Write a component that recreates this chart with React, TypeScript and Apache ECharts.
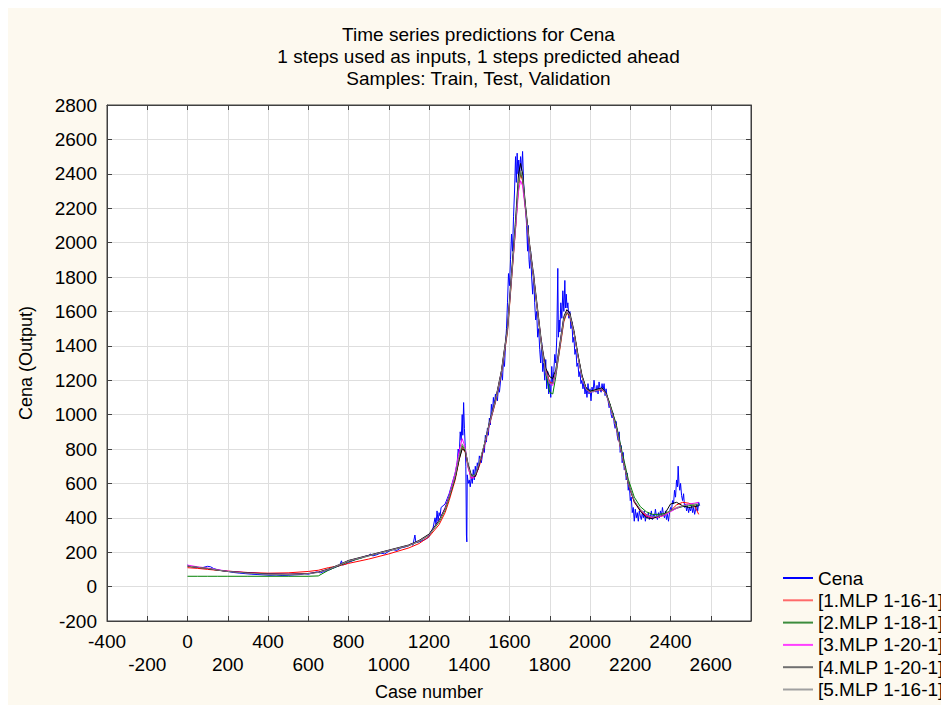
import React, { useEffect, useRef } from "react";
import * as echarts from "echarts";

const titleLines = [
  "Time series predictions for Cena",
  "1 steps used as inputs, 1 steps predicted ahead",
  "Samples: Train, Test, Validation",
];
const seriesNames = ["Cena", "[1.MLP 1-16-1]", "[2.MLP 1-18-1]", "[3.MLP 1-20-1]", "[4.MLP 1-20-1]", "[5.MLP 1-16-1]"];
const seriesColors = ["#0000ff", "#ff0000", "#008000", "#ff00ff", "#000000", "#808080"];
const legendColors = ["#0000ff", "#ff6a6a", "#3c8c3c", "#ff40ff", "#707070", "#a0a0a0"];

// observed series: [case, value]
const cena: number[][] = [
  [0,125],[10,118],[25,115],[40,112],[60,108],[80,112],[100,118],[115,115],[130,105],[150,98],[175,92],[200,88],[230,82],[260,78],[290,75],[320,72],[350,70],[380,68],[410,66],[440,67],[470,65],[500,66],[530,68],[560,70],[580,75],[600,72],[620,78],[640,85],[660,80],[680,88],[700,95],[720,105],[740,115],[755,120],[765,150],[770,125],[785,130],[800,140],[820,150],[840,160],[860,165],[880,175],[900,180],[910,190],[920,178],[940,185],[960,195],[980,190],[1000,205],[1020,215],[1040,210],[1060,225],[1080,230],[1100,238],[1110,250],[1120,240],[1130,300],[1135,255],[1150,260],[1170,268],[1190,280],[1200,290],[1210,320],[1220,340],[1230,400],[1235,360],[1240,440],[1245,380],[1250,430],[1255,410],[1260,460],[1270,470],[1280,480],[1290,510],[1300,540],[1310,580],[1320,620],[1330,660],[1340,720],[1345,800],[1350,760],[1355,900],[1360,850],[1365,1000],[1368,880],[1372,1070],[1376,920],[1380,820],[1383,700],[1386,300],[1388,260],[1390,650],[1395,600],[1400,620],[1405,580],[1410,640],[1415,600],[1420,680],[1425,620],[1430,700],[1435,650],[1440,720],[1445,680],[1450,760],[1460,720],[1470,800],[1475,780],[1480,880],[1485,840],[1490,920],[1495,880],[1500,980],[1505,940],[1510,1060],[1515,1000],[1520,1100],[1525,1050],[1530,1120],[1540,1080],[1545,1160],[1550,1130],[1560,1250],[1565,1200],[1570,1320],[1575,1280],[1580,1400],[1585,1500],[1590,1650],[1595,1820],[1600,1750],[1605,1900],[1610,2050],[1615,1950],[1620,2150],[1625,2300],[1630,2500],[1634,2350],[1638,2520],[1642,2400],[1646,2480],[1650,2380],[1655,2500],[1660,2420],[1665,2530],[1670,2350],[1675,2250],[1680,2200],[1685,2100],[1690,1950],[1693,2100],[1697,1900],[1700,1850],[1705,1950],[1710,1800],[1715,1700],[1720,1820],[1725,1650],[1730,1550],[1735,1600],[1740,1450],[1745,1500],[1750,1380],[1755,1300],[1760,1420],[1765,1250],[1770,1300],[1775,1200],[1780,1320],[1785,1150],[1790,1250],[1795,1120],[1800,1200],[1805,1100],[1810,1280],[1815,1180],[1820,1250],[1825,1350],[1830,1300],[1835,1450],[1840,1850],[1843,1450],[1847,1550],[1850,1480],[1855,1650],[1860,1560],[1865,1720],[1870,1600],[1875,1780],[1878,1620],[1882,1700],[1886,1620],[1890,1650],[1895,1560],[1900,1600],[1905,1500],[1910,1540],[1915,1420],[1920,1450],[1925,1350],[1930,1380],[1935,1280],[1940,1300],[1945,1220],[1950,1250],[1955,1180],[1960,1200],[1965,1150],[1970,1190],[1975,1120],[1980,1160],[1985,1100],[1990,1180],[1995,1120],[2000,1150],[2005,1080],[2010,1160],[2015,1130],[2020,1200],[2025,1150],[2030,1130],[2035,1170],[2040,1120],[2045,1190],[2050,1150],[2055,1130],[2060,1180],[2065,1140],[2070,1180],[2075,1110],[2080,1150],[2085,1100],[2090,1080],[2095,1040],[2100,1060],[2105,1000],[2110,980],[2115,1010],[2120,950],[2125,920],[2130,960],[2135,880],[2140,850],[2145,900],[2150,780],[2155,820],[2160,720],[2165,780],[2170,680],[2175,700],[2180,620],[2185,660],[2190,560],[2195,600],[2200,500],[2205,520],[2210,430],[2215,460],[2220,380],[2225,450],[2230,400],[2235,430],[2240,380],[2245,440],[2250,410],[2255,390],[2260,430],[2265,400],[2270,440],[2275,380],[2280,420],[2285,400],[2290,430],[2295,390],[2300,410],[2305,440],[2310,390],[2315,420],[2320,400],[2325,450],[2330,410],[2335,390],[2340,430],[2345,400],[2350,440],[2355,410],[2360,460],[2365,420],[2370,400],[2375,440],[2380,390],[2385,420],[2390,380],[2395,430],[2400,460],[2405,440],[2410,500],[2415,480],[2420,560],[2425,520],[2430,620],[2435,580],[2438,700],[2442,600],[2446,560],[2450,600],[2455,530],[2460,500],[2465,540],[2470,460],[2475,480],[2480,440],[2485,470],[2490,430],[2495,460],[2500,440],[2505,470],[2510,430],[2515,460],[2520,420],[2525,450],[2530,480],[2535,440],[2540,490],[2545,470],
];

// model prediction cases
const modelCases = [0,50,100,150,200,300,400,500,600,650,700,750,800,900,1000,1100,1150,1200,1250,1280,1300,1330,1350,1365,1380,1395,1410,1430,1450,1480,1500,1530,1560,1590,1610,1630,1645,1655,1665,1680,1700,1720,1740,1760,1780,1800,1815,1830,1850,1870,1885,1900,1920,1940,1960,1980,2000,2030,2060,2080,2100,2130,2160,2190,2220,2250,2280,2310,2340,2370,2400,2430,2460,2490,2520,2540];

const mlp1 = [110,106,100,95,90,82,78,80,88,95,110,120,135,160,190,225,250,290,360,430,500,620,740,810,780,690,630,640,700,840,940,1070,1240,1480,1780,2080,2330,2400,2360,2190,1980,1790,1590,1400,1260,1190,1180,1240,1380,1540,1590,1570,1480,1340,1220,1150,1130,1140,1145,1120,1050,930,760,600,490,440,410,400,405,415,440,475,490,485,470,420];
const mlp2 = [60,60,60,60,60,60,60,60,60,62,95,120,145,178,208,238,262,298,375,445,515,635,750,820,790,700,645,650,715,845,945,1075,1245,1490,1790,2090,2340,2410,2370,2190,1970,1790,1590,1390,1240,1130,1120,1220,1390,1550,1595,1575,1480,1345,1225,1155,1135,1145,1150,1125,1060,945,780,625,520,465,435,420,420,425,440,455,465,470,475,475];
const mlp3 = [125,115,108,98,90,80,74,72,76,84,100,124,150,180,210,240,265,300,385,460,530,660,790,860,810,690,630,640,710,840,945,1080,1250,1500,1800,2080,2300,2360,2330,2180,1970,1800,1600,1400,1250,1180,1170,1240,1400,1560,1600,1580,1480,1340,1220,1150,1130,1140,1150,1120,1050,930,760,600,495,445,415,400,405,415,435,455,470,480,485,490];
const mlp4 = [118,112,105,95,88,80,74,72,76,84,102,126,152,182,212,242,268,305,385,455,520,630,740,800,790,710,650,640,710,850,955,1085,1255,1510,1820,2130,2400,2460,2400,2210,1990,1810,1610,1410,1270,1220,1210,1260,1410,1570,1610,1590,1490,1350,1230,1155,1135,1145,1155,1125,1055,935,765,600,495,440,400,395,410,420,480,490,470,460,465,470];
const mlp5 = [120,112,106,96,88,78,72,70,75,82,100,125,150,180,210,240,265,300,380,450,520,640,760,830,800,700,640,650,720,850,950,1080,1250,1500,1800,2100,2350,2420,2380,2200,1980,1800,1600,1400,1250,1180,1180,1250,1400,1560,1600,1580,1480,1340,1220,1150,1130,1140,1150,1120,1050,930,760,600,500,450,420,405,410,420,440,460,470,475,480,480];

const FONT = "'Liberation Sans', Arial, sans-serif";

export default function App() {
  const ref = useRef<HTMLDivElement>(null);
  useEffect(() => {
    if (!ref.current) return;
    const chart = echarts.init(ref.current, null, { renderer: "svg" });
    const models = [mlp1, mlp2, mlp3, mlp4, mlp5];
    const series: any[] = [
      { name: seriesNames[0], type: "line", data: cena, showSymbol: false, symbol: "none",
        lineStyle: { width: 1, color: seriesColors[0] }, itemStyle: { color: seriesColors[0] }, xAxisIndex: 0, yAxisIndex: 0 },
      ...models.map((m, i) => ({
        name: seriesNames[i + 1], type: "line",
        data: modelCases.map((c, k) => [c, m[k]]),
        showSymbol: false, symbol: "none",
        lineStyle: { width: 1, color: seriesColors[i + 1] }, itemStyle: { color: seriesColors[i + 1] },
        xAxisIndex: 0, yAxisIndex: 0,
      })),
    ];
    const axisLine = { show: true, onZero: false, lineStyle: { color: "#404040", width: 1 } };
    const tick = { show: true, inside: true, length: 5, lineStyle: { color: "#404040" } };
    const split = { show: true, lineStyle: { color: "#dedede", width: 1 } };
    chart.setOption({
      animation: false,
      backgroundColor: "#fdf9ef",
      textStyle: { fontFamily: FONT },
      title: {
        text: titleLines.join("\n"),
        left: "center",
        top: 10,
        textStyle: { fontFamily: FONT, fontSize: 19, fontWeight: "normal", color: "#000", lineHeight: 22 },
      },
      grid: {
        left: 99, top: 97, width: 644, height: 516, show: true,
        backgroundColor: "#ffffff", borderColor: "#404040", borderWidth: 1,
        containLabel: false, outerBoundsMode: "none",
      },
      legend: {
        orient: "vertical",
        left: 775,
        top: 559,
        height: 138,
        padding: 0,
        icon: "rect",
        itemWidth: 30,
        itemHeight: 2,
        itemGap: 0.3,
        data: seriesNames.map((n, i) => ({ name: n, itemStyle: { color: legendColors[i] } })),
        textStyle: { fontFamily: FONT, fontSize: 19, color: "#000", lineHeight: 22 },
      },
      xAxis: [
        {
          type: "value", min: -400, max: 2800, interval: 200, position: "bottom",
          axisLine, axisTick: tick, splitLine: split,
          axisLabel: {
            fontFamily: FONT, fontSize: 19, color: "#000", lineHeight: 23, margin: 9,
            formatter: (v: number) => (Math.round(v / 200) % 2 !== 0 ? "\n" + v : String(v)),
          },
          name: "Case number", nameLocation: "middle", nameGap: 62,
          nameTextStyle: { fontFamily: FONT, fontSize: 18, color: "#000" },
        },
        {
          type: "value", min: -400, max: 2800, interval: 200, position: "top",
          axisLine, axisTick: tick, splitLine: { show: false }, axisLabel: { show: false },
        },
      ],
      yAxis: [
        {
          type: "value", min: -200, max: 2800, interval: 200, position: "left",
          axisLine, axisTick: tick, splitLine: split,
          axisLabel: { fontFamily: FONT, fontSize: 19, color: "#000", margin: 10, formatter: (v: number) => String(v) },
          name: "Cena (Output)", nameLocation: "middle", nameGap: 72, nameRotate: 90,
          nameTextStyle: { fontFamily: FONT, fontSize: 18, color: "#000" },
        },
        {
          type: "value", min: -200, max: 2800, interval: 200, position: "right",
          axisLine, axisTick: tick, splitLine: { show: false }, axisLabel: { show: false },
        },
      ],
      series,
    });
    return () => chart.dispose();
  }, []);
  return <div ref={ref} style={{ width: 941, height: 697 }} />;
}
